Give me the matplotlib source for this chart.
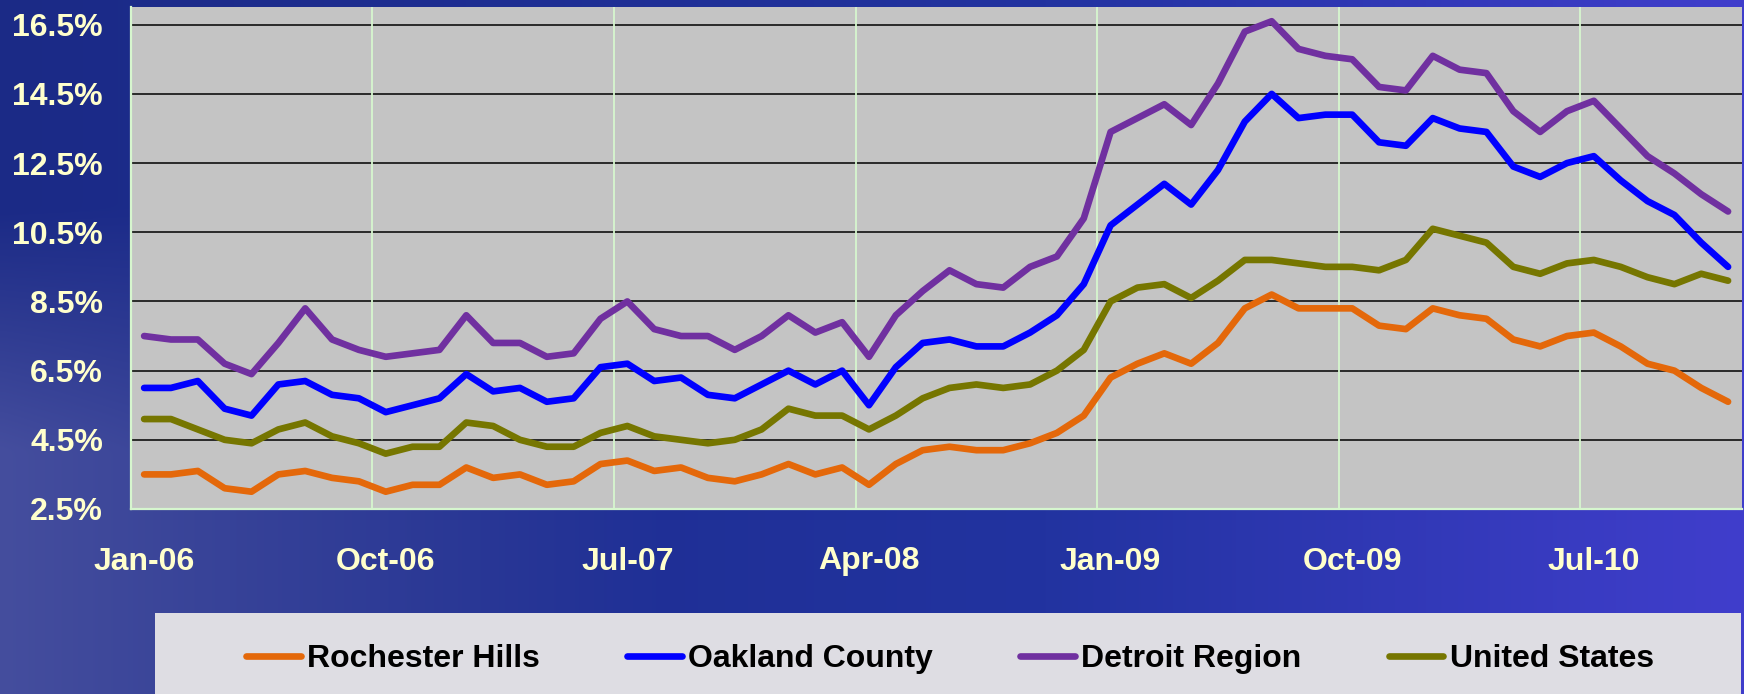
import numpy as np
import pandas as pd
import matplotlib
matplotlib.use("Agg")
import matplotlib.pyplot as plt
from matplotlib.patches import Rectangle
from matplotlib.font_manager import FontProperties

# ---------------- data ----------------
months = list(pd.date_range("2006-01-01", periods=60, freq="MS").strftime("%b-%y"))

rochester_hills = [3.5, 3.5, 3.6, 3.1, 3.0, 3.5, 3.6, 3.4, 3.3, 3.0, 3.2, 3.2,
                   3.7, 3.4, 3.5, 3.2, 3.3, 3.8, 3.9, 3.6, 3.7, 3.4, 3.3, 3.5,
                   3.8, 3.5, 3.7, 3.2, 3.8, 4.2, 4.3, 4.2, 4.2, 4.4, 4.7, 5.2,
                   6.3, 6.7, 7.0, 6.7, 7.3, 8.3, 8.7, 8.3, 8.3, 8.3, 7.8, 7.7,
                   8.3, 8.1, 8.0, 7.4, 7.2, 7.5, 7.6, 7.2, 6.7, 6.5, 6.0, 5.6]
oakland_county = [6.0, 6.0, 6.2, 5.4, 5.2, 6.1, 6.2, 5.8, 5.7, 5.3, 5.5, 5.7,
                  6.4, 5.9, 6.0, 5.6, 5.7, 6.6, 6.7, 6.2, 6.3, 5.8, 5.7, 6.1,
                  6.5, 6.1, 6.5, 5.5, 6.6, 7.3, 7.4, 7.2, 7.2, 7.6, 8.1, 9.0,
                  10.7, 11.3, 11.9, 11.3, 12.3, 13.7, 14.5, 13.8, 13.9, 13.9, 13.1, 13.0,
                  13.8, 13.5, 13.4, 12.4, 12.1, 12.5, 12.7, 12.0, 11.4, 11.0, 10.2, 9.5]
detroit_region = [7.5, 7.4, 7.4, 6.7, 6.4, 7.3, 8.3, 7.4, 7.1, 6.9, 7.0, 7.1,
                  8.1, 7.3, 7.3, 6.9, 7.0, 8.0, 8.5, 7.7, 7.5, 7.5, 7.1, 7.5,
                  8.1, 7.6, 7.9, 6.9, 8.1, 8.8, 9.4, 9.0, 8.9, 9.5, 9.8, 10.9,
                  13.4, 13.8, 14.2, 13.6, 14.8, 16.3, 16.6, 15.8, 15.6, 15.5, 14.7, 14.6,
                  15.6, 15.2, 15.1, 14.0, 13.4, 14.0, 14.3, 13.5, 12.7, 12.2, 11.6, 11.1]
united_states = [5.1, 5.1, 4.8, 4.5, 4.4, 4.8, 5.0, 4.6, 4.4, 4.1, 4.3, 4.3,
                 5.0, 4.9, 4.5, 4.3, 4.3, 4.7, 4.9, 4.6, 4.5, 4.4, 4.5, 4.8,
                 5.4, 5.2, 5.2, 4.8, 5.2, 5.7, 6.0, 6.1, 6.0, 6.1, 6.5, 7.1,
                 8.5, 8.9, 9.0, 8.6, 9.1, 9.7, 9.7, 9.6, 9.5, 9.5, 9.4, 9.7,
                 10.6, 10.4, 10.2, 9.5, 9.3, 9.6, 9.7, 9.5, 9.2, 9.0, 9.3, 9.1]

series_names = ["Rochester Hills", "Oakland County", "Detroit Region", "United States"]
series_colors = ["#E4680A", "#0000FF", "#7030A0", "#767600"]
y_ticks = [2.5, 4.5, 6.5, 8.5, 10.5, 12.5, 14.5, 16.5]
tick_every = 9

# ---------------- figure ----------------
W, H = 1744, 694
fig = plt.figure(figsize=(W / 100, H / 100), dpi=100)

# background gradient (blue, lighter at bottom-left like the photo)
bg = fig.add_axes([0, 0, 1, 1], zorder=0)
bg.axis("off")
gx = np.linspace(0, 1, 400)[None, :]
gy = np.linspace(0, 1, 160)[:, None]  # 0 = top
c_left = np.array([0x1B, 0x2A, 0x86]) / 255
c_mid = np.array([0x22, 0x33, 0xA0]) / 255
c_right = np.array([0x40, 0x3E, 0xCC]) / 255
t = gx[..., None]
base = np.where(t < 0.6, c_left + (c_mid - c_left) * (t / 0.6),
                c_mid + (c_right - c_mid) * ((t - 0.6) / 0.4))
base = np.broadcast_to(base, (160, 400, 3)).copy()
light = np.array([0x4C, 0x54, 0xA2]) / 255
wx = np.clip(1 - gx / 0.38, 0, 1)
wy = np.clip((gy - 0.3) / 0.35, 0, 1)
w = (wx * wy)[..., None] * 0.85
img = base * (1 - w) + light * w
bg.imshow(img, aspect="auto", extent=[0, 1, 0, 1], interpolation="bicubic")
bg.set_xlim(0, 1)
bg.set_ylim(0, 1)

# legend box
fig.patches.append(Rectangle((155 / W, 0), (1741 - 155) / W, (H - 613) / H,
                             transform=fig.transFigure, facecolor="#DEDDE3",
                             edgecolor="none", zorder=1))

left, right, top, bottom = 130.7, 1741.5, 7.4, 509
ax = fig.add_axes([left / W, 1 - bottom / H, (right - left) / W, (bottom - top) / H], zorder=2)
ax.set_facecolor("#C4C4C4")

x = np.arange(len(months)) + 0.5
handles = []
for vals, name, col in zip([rochester_hills, oakland_county, detroit_region, united_states],
                           series_names, series_colors):
    ln, = ax.plot(x, vals, color=col, lw=4.8, solid_joinstyle="round",
                  solid_capstyle="round", label=name, zorder=3)
    handles.append(ln)

ax.set_xlim(0, len(months))
ax.set_ylim(2.5, 17.0)

for yv in y_ticks[1:]:
    ax.axhline(yv, color="black", lw=1.1, zorder=1)
for k in range(tick_every, len(months), tick_every):
    ax.axvline(k, color="#D6F6CE", lw=1.3, zorder=1)

for s in ["top", "right"]:
    ax.spines[s].set_visible(False)
for s in ["left", "bottom"]:
    ax.spines[s].set_color("#D6F6CE")
    ax.spines[s].set_linewidth(1.6)

fp = dict(family=["Liberation Sans", "DejaVu Sans"], weight="bold", size=23)
ax.set_yticks(y_ticks)
ax.set_yticklabels([f"{v:.1f}%" for v in y_ticks], color="#FFFFCC", **fp)
xt = x[::tick_every]
ax.set_xticks(xt)
ax.set_xticklabels(months[::tick_every], color="#FFFFCC", **fp)
ax.tick_params(axis="y", length=0, pad=20)
ax.tick_params(axis="x", length=0, pad=27)

fig.legend(handles=handles, labels=series_names, loc="center",
           bbox_to_anchor=(950 / W, 1 - 659 / H), ncol=4, frameon=False,
           handlelength=1.7, handletextpad=0.2, columnspacing=2.74,
           prop=FontProperties(family="Liberation Sans", weight="bold", size=23))

fig.savefig("out.png", dpi=100)
